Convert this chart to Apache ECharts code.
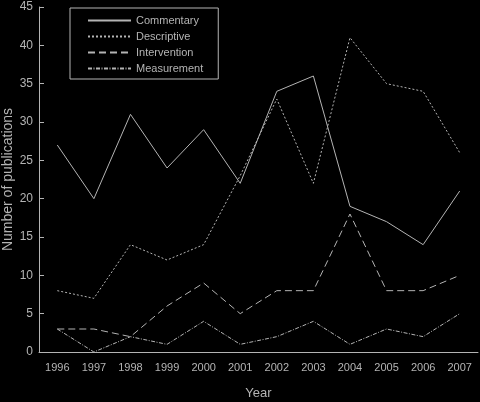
<!DOCTYPE html>
<html>
<head>
<meta charset="utf-8">
<script src="https://cdn.jsdelivr.net/npm/echarts@6/dist/echarts.min.js"></script>
<style>
  html, body { margin: 0; padding: 0; background: #000; }
  #chart { width: 480px; height: 402px; }
</style>
</head>
<body>
<div id="chart"></div>
<script>
var years = ['1996', '1997', '1998', '1999', '2000', '2001', '2002', '2003', '2004', '2005', '2006', '2007'];
var commentary = [27, 20, 31, 24, 29, 22, 34, 36, 19, 17, 14, 21];
var descriptive = [8, 7, 14, 12, 14, 23, 33, 22, 41, 35, 34, 26];
var intervention = [3, 3, 2, 6, 9, 5, 8, 8, 18, 8, 8, 10];
var measurement = [3, 0, 2, 1, 4, 1, 2, 4, 1, 3, 2, 5];

var ink = '#b4b4b4';
var font = 'Liberation Sans, Arial, sans-serif';

var makeSeries = function (name, data, type) {
    return {
        name: name,
        type: 'line',
        data: data,
        symbol: 'none',
        animation: false,
        lineStyle: { color: ink, width: 1, type: type },
        itemStyle: { color: ink }
    };
};

var myChart = echarts.init(document.getElementById('chart'));
var option = {
    backgroundColor: '#000',
    textStyle: { fontFamily: font },
    legend: {
        orient: 'vertical',
        left: 70,
        top: 8,
        padding: [7, 15, 5, 17],
        itemWidth: 43,
        itemHeight: 12,
        itemGap: 5,
        borderColor: ink,
        borderWidth: 1,
        itemStyle: { opacity: 0 },
        textStyle: { color: ink, fontSize: 11, fontFamily: font },
        data: ['Commentary', 'Descriptive', 'Intervention', 'Measurement']
    },
    grid: {
        left: 39,
        right: 2,
        top: 7,
        bottom: 50,
        containLabel: false,
        outerBoundsMode: 'none'
    },
    xAxis: {
        type: 'category',
        data: years,
        boundaryGap: true,
        name: 'Year',
        nameLocation: 'middle',
        nameGap: 35,
        nameTextStyle: { color: ink, fontSize: 13 },
        axisLine: { lineStyle: { color: ink, width: 1 } },
        axisTick: { alignWithLabel: true, inside: true, length: 5, lineStyle: { color: ink } },
        axisLabel: { color: ink, fontSize: 11, margin: 10 },
        splitLine: { show: false }
    },
    yAxis: {
        type: 'value',
        min: 0,
        max: 45,
        interval: 5,
        name: 'Number of publications',
        nameLocation: 'middle',
        nameGap: 24,
        nameMoveOverlap: false,
        nameTextStyle: { color: ink, fontSize: 14 },
        axisLine: { show: true, lineStyle: { color: ink, width: 1 } },
        axisTick: { show: true, inside: true, length: 5, lineStyle: { color: ink } },
        axisLabel: { color: ink, fontSize: 12, margin: 6 },
        splitLine: { show: false }
    },
    series: [
        makeSeries('Commentary', commentary, 'solid'),
        makeSeries('Descriptive', descriptive, [2, 2]),
        makeSeries('Intervention', intervention, [7, 4]),
        makeSeries('Measurement', measurement, [4, 1.5, 1, 1.5])
    ]
};
myChart.setOption(option);
</script>
</body>
</html>
